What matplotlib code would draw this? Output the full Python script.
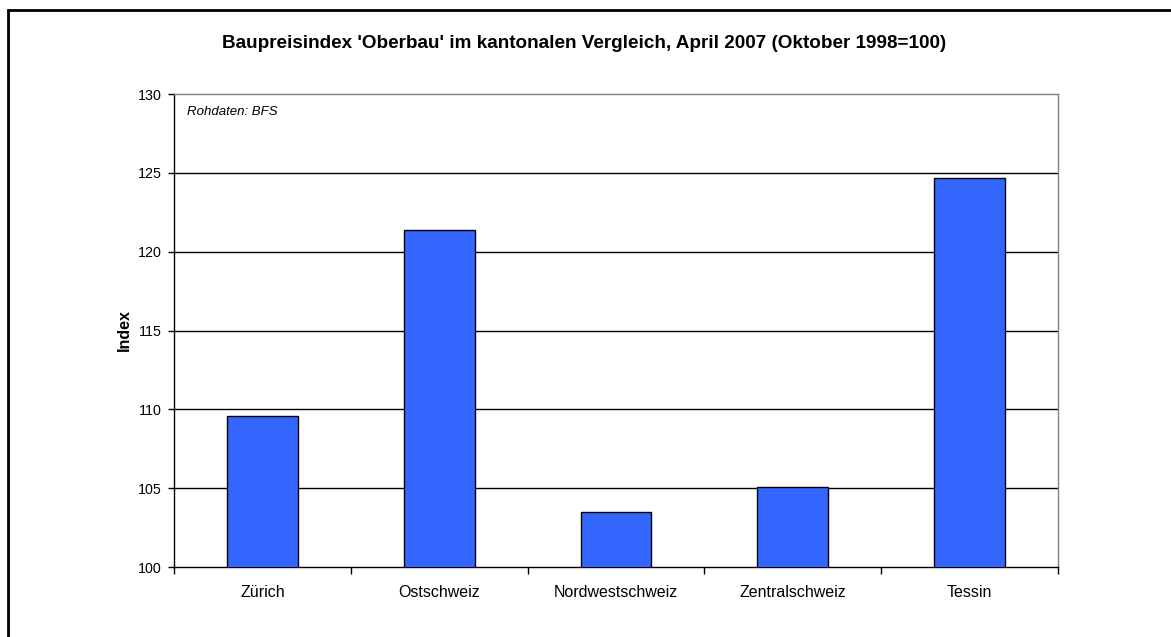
import matplotlib.pyplot as plt
from matplotlib.patches import Rectangle

plt.rcParams['font.family'] = ['Liberation Sans', 'DejaVu Sans']

regions = ['Zürich', 'Ostschweiz', 'Nordwestschweiz', 'Zentralschweiz', 'Tessin']
index_values = [109.6, 121.4, 103.5, 105.05, 124.65]
y_ticks = [100, 105, 110, 115, 120, 125, 130]

W, H = 1171, 637
fig = plt.figure(figsize=(W / 100, H / 100), dpi=100)
fig.patch.set_facecolor('white')

# outer frame (only left and top edges are inside the canvas)
fig.add_artist(Rectangle((7.5 / W, -0.05), 1.2, 1 - 9.5 / H + 0.05,
                         transform=fig.transFigure, fill=False,
                         edgecolor='black', linewidth=2))

ax = fig.add_axes([174 / W, 1 - 567 / H, (1058 - 174) / W, (567 - 94) / H])

x = list(range(len(regions)))
ax.bar(x, index_values, width=0.4, bottom=0, color='#3366FF',
       edgecolor='black', linewidth=1, zorder=3)

ax.set_xlim(-0.5, len(regions) - 0.5)
ax.set_ylim(100, 130)
ax.set_yticks(y_ticks)
ax.set_yticklabels([str(t) for t in y_ticks], fontsize=10.3)

for t in y_ticks[1:-1]:
    ax.axhline(t, color='black', linewidth=1, zorder=1)

# category labels centred, ticks on category boundaries
ax.set_xticks(x)
ax.set_xticklabels(regions, fontsize=11.5)
ax.tick_params(axis='x', length=0, pad=13)
ax.set_xticks([i - 0.5 for i in range(len(regions) + 1)], minor=True)
ax.tick_params(axis='x', which='minor', length=5, width=1, color='black', direction='out')
ax.tick_params(axis='y', length=4, width=1, color='black', direction='out', pad=5)

for side in ('left', 'bottom'):
    ax.spines[side].set_color('black')
    ax.spines[side].set_linewidth(1)
for side in ('top', 'right'):
    ax.spines[side].set_color('#808080')
    ax.spines[side].set_linewidth(1)

ax.set_ylabel('Index', fontsize=11.5, fontweight='bold', labelpad=4)

ax.text(0.015, 0.962, 'Rohdaten: BFS', transform=ax.transAxes,
        fontsize=9.5, style='italic', va='center', ha='left')

fig.text(584 / W, 1 - 44 / H,
         "Baupreisindex 'Oberbau' im kantonalen Vergleich, April 2007 (Oktober 1998=100)",
         fontsize=13.6, fontweight='bold', ha='center', va='center')

fig.savefig('out.png', dpi=100)
